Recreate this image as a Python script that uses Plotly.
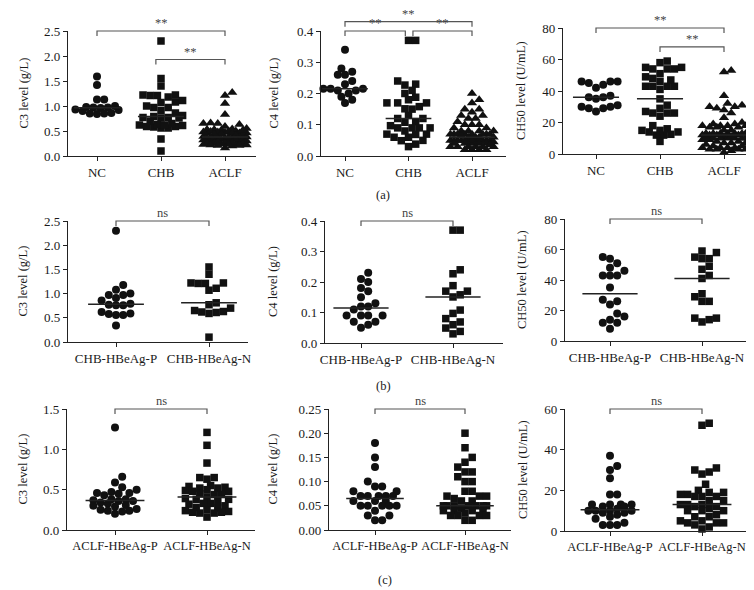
import numpy as np
import plotly.graph_objects as go

# ---------------- data ----------------
groups_a = ["NC", "CHB", "ACLF"]
groups_b = ["CHB-HBeAg-P", "CHB-HBeAg-N"]
groups_c = ["ACLF-HBeAg-P", "ACLF-HBeAg-N"]

nc_c3 = [1.59, 1.42, 1.13, 1.13, 1.00, 0.98, 0.97, 0.97, 0.96, 0.93, 0.92, 0.90, 0.86, 0.85, 0.85, 0.84]
nc_c4 = [0.34, 0.28, 0.27, 0.26, 0.26, 0.24, 0.23, 0.215, 0.215, 0.215, 0.21, 0.21, 0.20, 0.19, 0.18, 0.17]
nc_ch50 = [46, 46, 45, 46, 44, 42, 37, 36, 36, 35, 31, 30, 30, 29, 29, 27]

chb_p_c3 = [2.30, 1.18, 1.08, 1.00, 0.97, 0.97, 0.91, 0.86, 0.77, 0.76, 0.76, 0.79, 0.59, 0.56, 0.56, 0.58, 0.62, 0.34]
chb_n_c3 = [1.55, 1.40, 1.22, 1.21, 1.21, 1.22, 1.11, 1.07, 0.77, 0.81, 0.70, 0.63, 0.61, 0.59, 0.62, 0.65, 0.10]
chb_p_c4 = [0.23, 0.21, 0.20, 0.17, 0.18, 0.15, 0.13, 0.12, 0.12, 0.11, 0.09, 0.09, 0.09, 0.09, 0.07, 0.07, 0.06, 0.05]
chb_n_c4 = [0.37, 0.37, 0.24, 0.227, 0.17, 0.17, 0.188, 0.158, 0.151, 0.108, 0.097, 0.08, 0.069, 0.06, 0.049, 0.038, 0.03]
chb_p_ch50 = [55, 54, 51, 46, 48, 43, 43, 43, 35, 26, 27, 24, 18, 16, 14, 12, 12, 8]
chb_n_ch50 = [59, 58, 54, 55, 54, 49, 47, 43, 41, 31, 29, 26, 26, 15, 12.5, 14, 15]

aclf_p_c3 = [1.27, 0.66, 0.59, 0.53, 0.50, 0.47, 0.46, 0.46, 0.45, 0.43, 0.38, 0.38, 0.37, 0.36, 0.36,
             0.34, 0.33, 0.31, 0.30, 0.29, 0.26, 0.25, 0.24, 0.24, 0.23, 0.20]
aclf_n_c3 = [1.21, 1.05, 0.83, 0.65, 0.65, 0.63, 0.55, 0.54, 0.53, 0.52, 0.52, 0.50, 0.49, 0.48, 0.48,
             0.45, 0.44, 0.44, 0.41, 0.39, 0.38, 0.38, 0.35, 0.33, 0.33, 0.32, 0.30, 0.28, 0.27, 0.25,
             0.24, 0.23, 0.22, 0.22, 0.21, 0.21, 0.16]
aclf_p_c4 = [0.18, 0.15, 0.13, 0.10, 0.09, 0.09, 0.08, 0.08, 0.07, 0.07, 0.07, 0.07, 0.07, 0.06, 0.06,
             0.06, 0.05, 0.05, 0.05, 0.05, 0.05, 0.04, 0.03, 0.03, 0.02, 0.02]
aclf_n_c4 = [0.20, 0.17, 0.15, 0.14, 0.13, 0.12, 0.12, 0.11, 0.10, 0.10, 0.08, 0.08, 0.07, 0.07, 0.07,
             0.065, 0.06, 0.06, 0.05, 0.05, 0.05, 0.05, 0.05, 0.05, 0.05, 0.045, 0.04, 0.04, 0.04, 0.04,
             0.035, 0.03, 0.03, 0.03, 0.03, 0.02, 0.02]
aclf_p_ch50 = [37, 32, 30, 26, 18, 18, 13, 13, 13, 13, 12, 12, 11, 10, 10, 10, 10, 9, 9, 8, 7, 6, 4, 3, 3, 3]
aclf_n_ch50 = [53, 52, 31, 30, 29, 28, 23, 20, 19, 19, 18, 18, 17, 17, 17, 15, 15, 13, 13, 13, 12, 12,
               11, 10, 10, 10, 8, 7, 7, 5, 5, 4, 4, 4, 3, 2, 1]

# significance annotations: (from group, to group, level, label)
sig_a1 = [(0, 2, 2.5, "**"), (0.92, 2, 1.93, "**")]
sig_a2 = [(0, 2, 0.43, "**"), (0, 0.95, 0.40, "**"), (1.07, 2, 0.40, "**")]
sig_a3 = [(0, 2, 80, "**"), (1, 2, 68, "**")]

# ---------------- layout constants ----------------
W, H = 754, 590
FONT = "Liberation Serif"
INK = "#111111"

panels = [
    dict(left=60, right=248, bottom=148, top=23, cat_px=[89, 154, 217], ymax=2.5, dtick=0.5, fmt="{:.1f}",
         title="C3 level (g/L)", tx=15, cats=groups_a, xfs=13,
         groups=[(nc_c3, "circle"), (chb_p_c3 + chb_n_c3, "square"), (aclf_p_c3 + aclf_n_c3, "triangle-up")],
         sig=sig_a1, mhw=0.36),
    dict(left=313, right=498, bottom=148, top=23, cat_px=[337, 403, 464], ymax=0.4, dtick=0.1, fmt="{:.1f}",
         title="C4 level (g/L)", tx=265, cats=groups_a, xfs=13,
         groups=[(nc_c4, "circle"), (chb_p_c4 + chb_n_c4, "square"), (aclf_p_c4 + aclf_n_c4, "triangle-up")],
         sig=sig_a2, mhw=0.36),
    dict(left=555, right=752, bottom=146, top=20, cat_px=[588, 650, 716], ymax=80, dtick=20, fmt="{:.0f}",
         title="CH50 level (U/mL)", tx=513, cats=groups_a, xfs=13,
         groups=[(nc_ch50, "circle"), (chb_p_ch50 + chb_n_ch50, "square"), (aclf_p_ch50 + aclf_n_ch50, "triangle-up")],
         sig=sig_a3, mhw=0.36),
    dict(left=60, right=240, bottom=334, top=213, cat_px=[108, 201], ymax=2.5, dtick=0.5, fmt="{:.1f}",
         title="C3 level (g/L)", tx=14, cats=groups_b, xfs=13,
         groups=[(chb_p_c3, "circle"), (chb_n_c3, "square")], sig=[(0, 1, 2.5, "ns")], mhw=0.3),
    dict(left=317, right=495, bottom=335, top=213, cat_px=[353, 445], ymax=0.4, dtick=0.1, fmt="{:.1f}",
         title="C4 level (g/L)", tx=265, cats=groups_b, xfs=13,
         groups=[(chb_p_c4, "circle"), (chb_n_c4, "square")], sig=[(0, 1, 0.4, "ns")], mhw=0.3),
    dict(left=557, right=738, bottom=333, top=211, cat_px=[602, 694], ymax=80, dtick=20, fmt="{:.0f}",
         title="CH50 level (U/mL)", tx=514, cats=groups_b, xfs=13,
         groups=[(chb_p_ch50, "circle"), (chb_n_ch50, "square")], sig=[(0, 1, 80, "ns")], mhw=0.3),
    dict(left=59, right=247, bottom=522, top=401, cat_px=[107, 199], ymax=1.5, dtick=0.5, fmt="{:.1f}",
         title="C3 level (g/L)", tx=14, cats=groups_c, xfs=12.5,
         groups=[(aclf_p_c3, "circle"), (aclf_n_c3, "square")], sig=[(0, 1, 1.5, "ns")], mhw=0.32),
    dict(left=321, right=503, bottom=522, top=401, cat_px=[367, 457], ymax=0.25, dtick=0.05, fmt="{:.2f}",
         title="C4 level (g/L)", tx=264, cats=groups_c, xfs=12.5,
         groups=[(aclf_p_c4, "circle"), (aclf_n_c4, "square")], sig=[(0, 1, 0.25, "ns")], mhw=0.32),
    dict(left=557, right=739, bottom=523, top=401, cat_px=[602, 694], ymax=60, dtick=20, fmt="{:.0f}",
         title="CH50 level (U/mL)", tx=515, cats=groups_c, xfs=12.5,
         groups=[(aclf_p_ch50, "circle"), (aclf_n_ch50, "square")], sig=[(0, 1, 60, "ns")], mhw=0.32),
]

marker_size = {"circle": 8, "square": 7.5, "triangle-up": 9}


def swarm(values, kx, ky, step=7.2, maxoff=24.0):
    """Deterministic beeswarm: horizontal offsets (in category units) so dots do not overlap."""
    vals = np.asarray(values, float)
    order = np.argsort(vals, kind="stable")
    cands = [0.0]
    k = 1
    while k * step / 2 <= maxoff:
        cands += [k * step / 2, -k * step / 2]
        k += 1
    placed = []
    offs = np.zeros(len(vals))
    for idx in order:
        ypx = vals[idx] * ky
        best, bestd = 0.0, -1.0
        for c in cands:
            d = min((np.hypot(c - px, ypx - py) for px, py in placed), default=1e9)
            if d >= step:
                best = c
                break
            if d > bestd:
                bestd, best = d, c
        placed.append((best, ypx))
        offs[idx] = best / kx
    return offs


fig = go.Figure()
layout = dict(width=W, height=H, margin=dict(l=0, r=0, t=0, b=0, autoexpand=False), paper_bgcolor="white",
              plot_bgcolor="white", showlegend=False, font=dict(family=FONT, size=13, color="#1a1a1a"))
shapes, annotations = [], []

for i, p in enumerate(panels, start=1):
    n = len(p["cats"])
    kx = (p["cat_px"][-1] - p["cat_px"][0]) / (n - 1)
    xr = [-(p["cat_px"][0] - p["left"]) / kx, (n - 1) + (p["right"] - p["cat_px"][-1]) / kx]
    ky = (p["bottom"] - p["top"]) / p["ymax"]
    xid = "x" if i == 1 else f"x{i}"
    yid = "y" if i == 1 else f"y{i}"
    xd = [p["left"] / W, p["right"] / W]
    yd = [1 - p["bottom"] / H, 1 - p["top"] / H]
    tickvals = list(np.round(np.arange(0, p["ymax"] + p["dtick"] / 2, p["dtick"]), 6))
    layout["xaxis" if i == 1 else f"xaxis{i}"] = dict(
        domain=xd, range=xr, anchor=yid, tickmode="array", tickvals=list(range(n)), ticktext=p["cats"],
        ticks="outside", ticklen=4, tickwidth=1.2, tickcolor="#222", showline=True, linecolor="#222",
        linewidth=1.3, showgrid=False, zeroline=False, fixedrange=True, tickangle=0, automargin=False,
        tickfont=dict(size=p["xfs"]))
    layout["yaxis" if i == 1 else f"yaxis{i}"] = dict(
        domain=yd, range=[0, p["ymax"]], anchor=xid, tickmode="array", tickvals=tickvals,
        ticktext=[p["fmt"].format(v) for v in tickvals], ticks="outside", ticklen=4, tickwidth=1.2,
        tickcolor="#222", showline=True, linecolor="#222", linewidth=1.3, showgrid=False,
        zeroline=False, fixedrange=True, automargin=False, tickfont=dict(size=13))

    for gi, (vals, sym) in enumerate(p["groups"]):
        offs = swarm(vals, kx, ky)
        fig.add_trace(go.Scatter(
            x=gi + offs, y=vals, mode="markers", xaxis=xid, yaxis=yid, cliponaxis=False,
            marker=dict(symbol=sym, size=marker_size[sym], color=INK, line=dict(width=0))))
        med = float(np.median(vals))
        fig.add_trace(go.Scatter(
            x=[gi - p["mhw"], gi + p["mhw"]], y=[med, med], mode="lines", xaxis=xid, yaxis=yid,
            cliponaxis=False, line=dict(color="#222", width=1.5)))

    def to_paper(x, y, p=p, xr=xr, kx=kx, ky=ky):
        px = p["left"] + (x - xr[0]) * kx
        py = p["bottom"] - y * ky
        return px / W, 1 - py / H

    for (g0, g1, lvl, lab) in p["sig"]:
        x0, y0 = to_paper(g0, lvl)
        x1, _ = to_paper(g1, lvl)
        yd_ = y0 - 5 / H
        shapes.append(dict(type="path", xref="paper", yref="paper",
                           path=f"M {x0} {yd_} L {x0} {y0} L {x1} {y0} L {x1} {yd_}",
                           line=dict(color="#555", width=1.2)))
        annotations.append(dict(x=(x0 + x1) / 2, y=y0, xref="paper", yref="paper", text=lab,
                                showarrow=False, xanchor="center", yanchor="bottom", yshift=-1,
                                font=dict(family=FONT, size=12.5, color="#444")))

    annotations.append(dict(x=p["tx"] / W, y=(yd[0] + yd[1]) / 2, xref="paper", yref="paper",
                            text=p["title"], textangle=-90, showarrow=False, xanchor="center",
                            yanchor="middle", font=dict(family=FONT, size=12.5, color="#1a1a1a")))

for lab, (px, py) in {"(a)": (375, 187), "(b)": (375, 378), "(c)": (377, 572)}.items():
    annotations.append(dict(x=px / W, y=1 - py / H, xref="paper", yref="paper", text=lab,
                            showarrow=False, xanchor="center", yanchor="middle",
                            font=dict(family=FONT, size=12.5, color="#1a1a1a")))

layout["shapes"] = shapes
layout["annotations"] = annotations
fig.update_layout(**layout)
fig.write_html("out.html")
